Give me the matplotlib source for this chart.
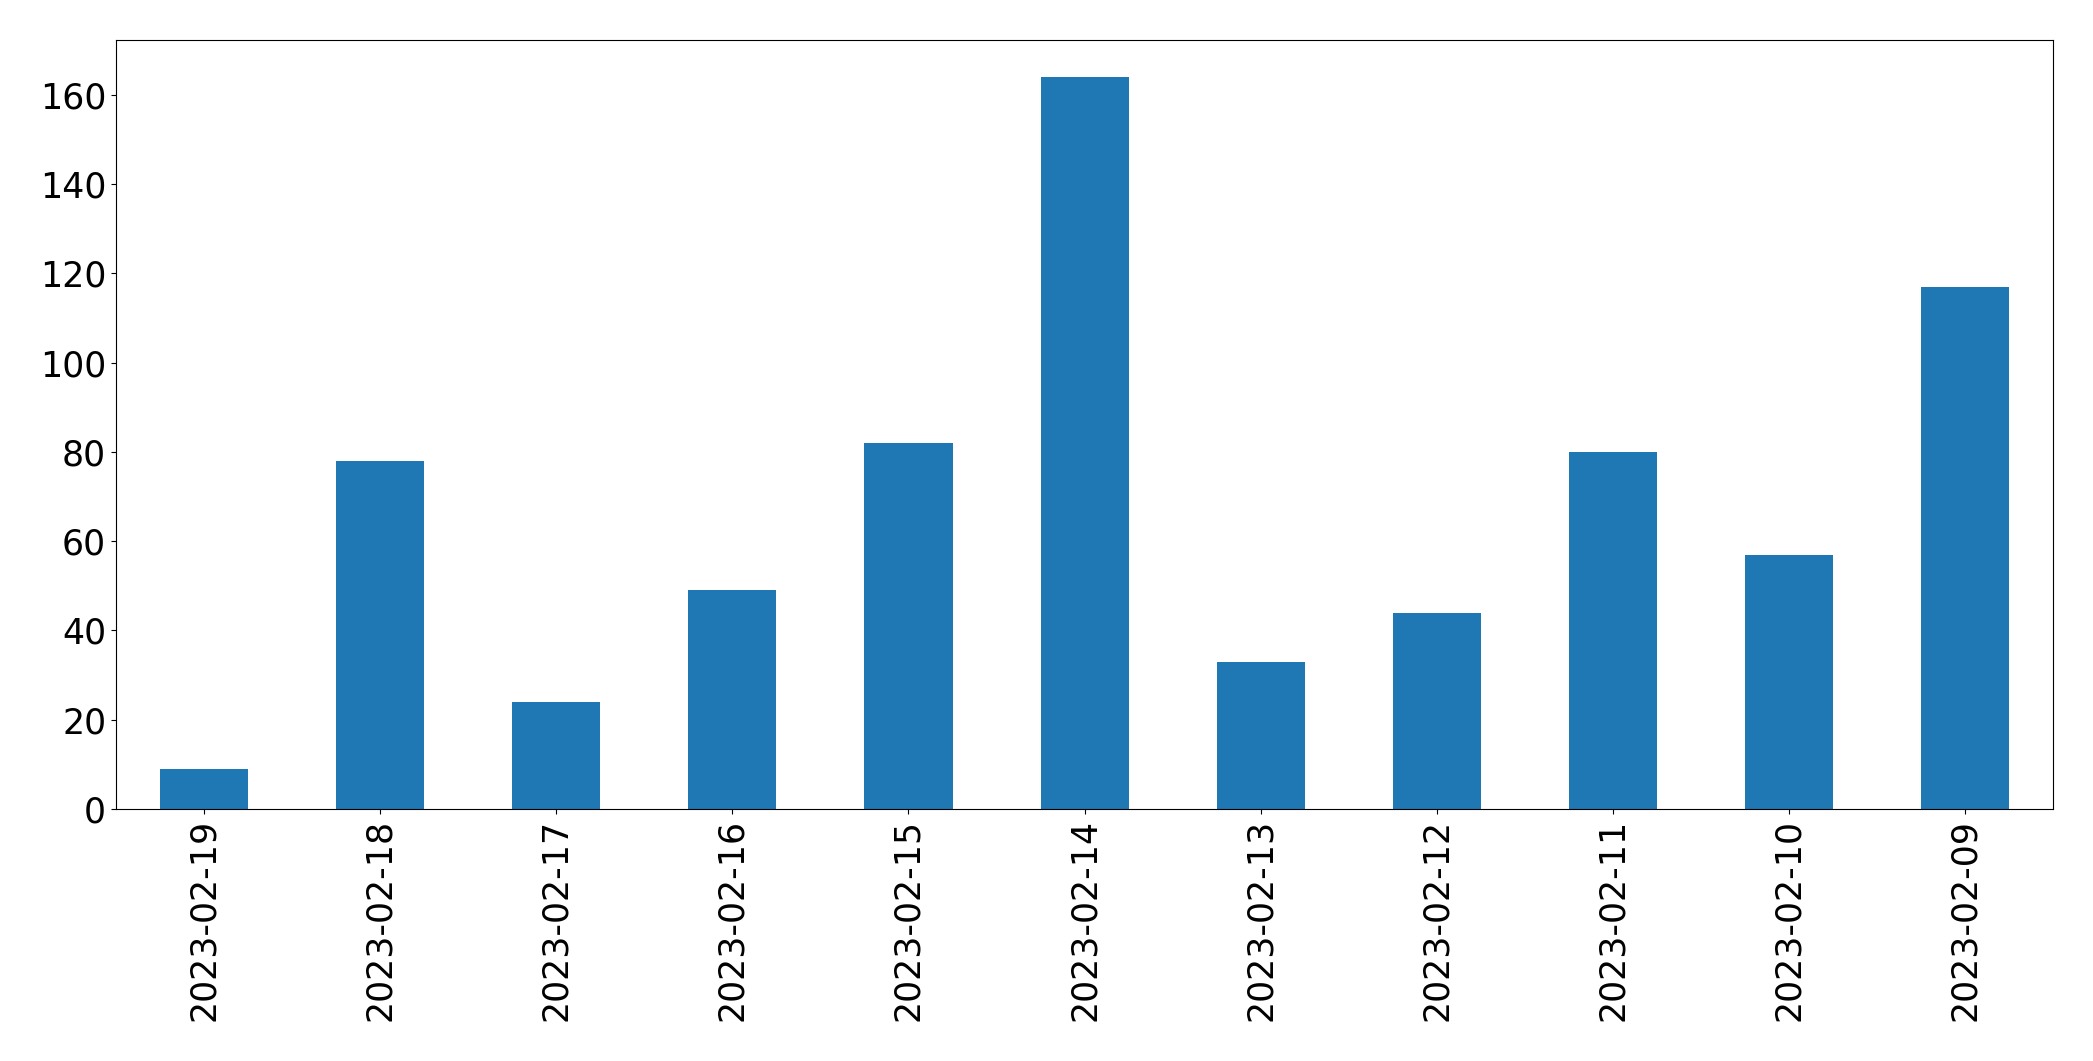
import matplotlib
matplotlib.use("Agg")
import matplotlib.pyplot as plt

dates = ["2023-02-19", "2023-02-18", "2023-02-17", "2023-02-16", "2023-02-15",
         "2023-02-14", "2023-02-13", "2023-02-12", "2023-02-11", "2023-02-10",
         "2023-02-09"]
counts = [9, 78, 24, 49, 82, 164, 33, 44, 80, 57, 117]

fig = plt.figure(figsize=(20.93, 10.61), dpi=100)
ax = fig.add_axes([0.0554, 0.2375, 0.9256, 0.7245])
x = list(range(len(dates)))
ax.bar(x, counts, width=0.5, color="#1f77b4")
ax.set_xticks(x)
ax.set_xticklabels(dates, rotation=90, fontsize=25)
ax.tick_params(axis="y", labelsize=25)
ax.set_xlim(-0.5, len(dates) - 0.5)
fig.savefig("out.png", dpi=100)
